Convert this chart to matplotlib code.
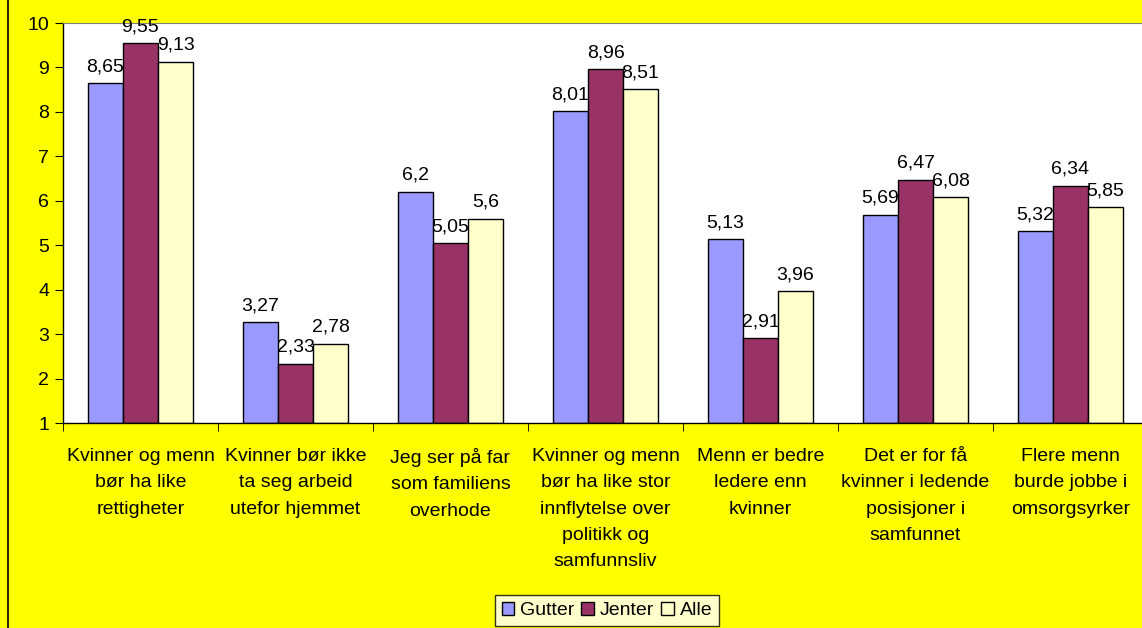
import matplotlib
matplotlib.use("Agg")
import matplotlib.pyplot as plt
import numpy as np
from matplotlib.patches import Patch

categories = [
    "Kvinner og menn\nbør ha like\nrettigheter",
    "Kvinner bør ikke\nta seg arbeid\nutefor hjemmet",
    "Jeg ser på far\nsom familiens\noverhode",
    "Kvinner og menn\nbør ha like stor\ninnflytelse over\npolitikk og\nsamfunnsliv",
    "Menn er bedre\nledere enn\nkvinner",
    "Det er for få\nkvinner i ledende\nposisjoner i\nsamfunnet",
    "Flere menn\nburde jobbe i\nomsorgsyrker",
]
gutter = [8.65, 3.27, 6.2, 8.01, 5.13, 5.69, 5.32]
jenter = [9.55, 2.33, 5.05, 8.96, 2.91, 6.47, 6.34]
alle = [9.13, 2.78, 5.6, 8.51, 3.96, 6.08, 5.85]
series_names = ["Gutter", "Jenter", "Alle"]
colors = ["#9999FF", "#993366", "#FFFFCC"]
yticks = list(range(1, 11))

plt.rcParams['font.family'] = ['Liberation Sans', 'DejaVu Sans']
W, H = 1142, 628
fig = plt.figure(figsize=(W / 100, H / 100), dpi=100, facecolor="#FFFF00")

left, top, bottom = 63, 23, 423
ax = fig.add_axes([left / W, (H - bottom) / H, 1085 / W, (bottom - top) / H])
ax.set_facecolor("white")

x = np.arange(len(categories))
bw = 0.226
fs = 14
for i, (vals, c) in enumerate(zip([gutter, jenter, alle], colors)):
    xs = x + (i - 1) * bw
    ax.bar(xs, np.array(vals) - 1, bottom=1, width=bw, color=c, edgecolor="black",
           linewidth=1.0, zorder=2)
    for xi, v in zip(xs, vals):
        s = ("%g" % v).replace(".", ",")
        ax.annotate(s, (xi, v), xytext=(0, 8.6), textcoords="offset points",
                    ha="center", va="baseline", fontsize=fs, zorder=3)

ax.set_xlim(-0.5, len(categories) - 0.5)
ax.set_ylim(1, 10)
ax.set_yticks(yticks)
ax.set_yticklabels([str(t) for t in yticks], fontsize=fs)
ax.set_xticks(x)
ax.set_xticklabels(categories, fontsize=fs, linespacing=1.72, va="top")
ax.tick_params(axis="x", which="major", length=0, pad=18)
ax.set_xticks(np.arange(len(categories) + 1) - 0.5, minor=True)
ax.tick_params(axis="x", which="minor", length=6, direction="out", color="black")
ax.tick_params(axis="y", length=6, direction="out", pad=4)

for side in ["left", "bottom"]:
    ax.spines[side].set_color("black")
    ax.spines[side].set_linewidth(1.0)
ax.spines["top"].set_color("#808080")
ax.spines["right"].set_visible(False)

handles = [Patch(facecolor=c, edgecolor="black", label=n) for c, n in zip(colors, series_names)]
leg = fig.legend(handles=handles, loc="upper center", bbox_to_anchor=(607 / W, 1 - 595 / H),
                 ncol=3, fontsize=fs, frameon=True, fancybox=False, edgecolor="black",
                 handlelength=0.65, handleheight=0.65, handletextpad=0.3, columnspacing=0.35,
                 borderpad=0.35, borderaxespad=0)
leg.get_frame().set_linewidth(1.0)

fig.add_artist(plt.Line2D([8 / W, 8 / W], [0, 1], color="black", linewidth=1.2))

fig.savefig("out.png", dpi=100, facecolor=fig.get_facecolor())
